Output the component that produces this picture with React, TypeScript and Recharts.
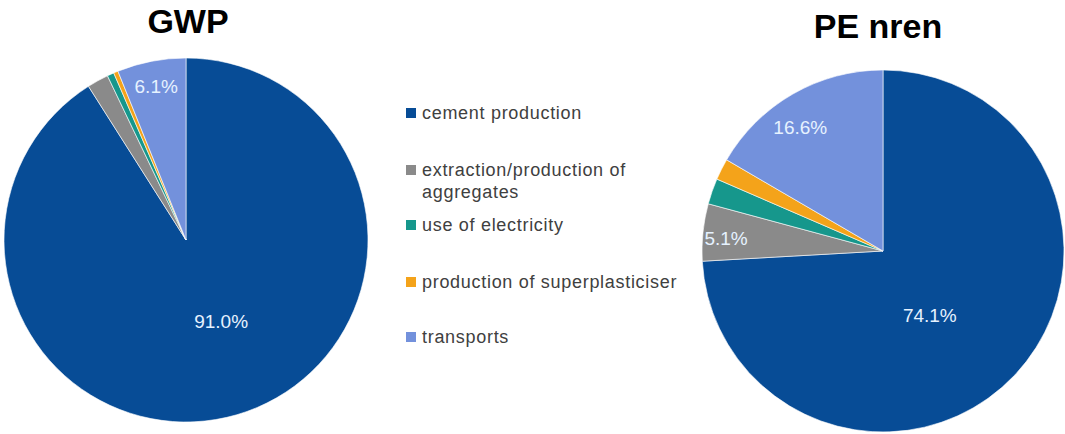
import React from 'react';
import { PieChart, Pie, Cell } from 'recharts';

const categories = [
  'cement production',
  'extraction/production of aggregates',
  'use of electricity',
  'production of superplasticiser',
  'transports',
];
const gwpValues = [91.0, 1.9, 0.6, 0.4, 6.1];
const penrenValues = [74.1, 5.1, 2.3, 1.9, 16.6];
const colors = ['#074c96', '#8a8a8a', '#16978c', '#f4a31a', '#7391dc'];

const gwpData = categories.map((name, i) => ({ name, value: gwpValues[i] }));
const penrenData = categories.map((name, i) => ({ name, value: penrenValues[i] }));

const RAD = Math.PI / 180;
const FONT = '"Liberation Sans", Arial, sans-serif';

type LabelCfg = Record<number, { frac: number; off: number }>;

const makeLabel = (cfg: LabelCfg) => (props: any) => {
  const { cx, cy, midAngle, outerRadius, index, value } = props;
  const c = cfg[index];
  if (!c) return null;
  const a = (midAngle + c.off) * RAD;
  const r = outerRadius * c.frac;
  const x = cx + r * Math.cos(-a);
  const y = cy + r * Math.sin(-a);
  return (
    <text
      x={x}
      y={y}
      fill="#e6f2ff"
      fontSize={19}
      fontFamily={FONT}
      textAnchor="middle"
      dominantBaseline="central"
    >
      {Number(value).toFixed(1) + '%'}
    </text>
  );
};

const gwpLabels: LabelCfg = { 0: { frac: 0.49, off: 7 }, 4: { frac: 0.86, off: 0 } };
const penLabels: LabelCfg = {
  0: { frac: 0.44, off: -10.6 },
  1: { frac: 0.87, off: 1.3 },
  4: { frac: 0.82, off: 4 },
};

const legendRows = [
  { lines: ['cement production'], y: 113 },
  { lines: ['extraction/production of', 'aggregates'], y: 170 },
  { lines: ['use of electricity'], y: 225 },
  { lines: ['production of superplasticiser'], y: 282 },
  { lines: ['transports'], y: 337 },
];

const margin = { top: 0, right: 0, bottom: 0, left: 0 };

export default function App() {
  return (
    <div
      style={{
        position: 'absolute',
        left: 0,
        top: 0,
        width: 1065,
        height: 434,
        background: '#ffffff',
        fontFamily: FONT,
        overflow: 'hidden',
      }}
    >
      <div
        style={{
          position: 'absolute',
          left: 88,
          top: 2,
          width: 200,
          textAlign: 'center',
          fontSize: 34,
          fontWeight: 'bold',
          color: '#000',
          lineHeight: '38px',
        }}
      >
        GWP
      </div>
      <div
        style={{
          position: 'absolute',
          left: 778,
          top: 7,
          width: 200,
          textAlign: 'center',
          fontSize: 34,
          fontWeight: 'bold',
          color: '#000',
          lineHeight: '38px',
        }}
      >
        PE nren
      </div>

      <div style={{ position: 'absolute', left: 0, top: 0 }}>
        <PieChart width={380} height={434} margin={margin}>
          <Pie
            data={gwpData}
            dataKey="value"
            nameKey="name"
            cx={186}
            cy={240}
            outerRadius={182}
            startAngle={90}
            endAngle={-270}
            stroke="#ffffff"
            strokeWidth={0.6}
            labelLine={false}
            label={makeLabel(gwpLabels)}
            isAnimationActive={false}
          >
            {gwpData.map((d, i) => (
              <Cell key={d.name} fill={colors[i]} />
            ))}
          </Pie>
        </PieChart>
      </div>

      <div style={{ position: 'absolute', left: 690, top: 0 }}>
        <PieChart width={375} height={434} margin={margin}>
          <Pie
            data={penrenData}
            dataKey="value"
            nameKey="name"
            cx={193}
            cy={251}
            outerRadius={181}
            startAngle={90}
            endAngle={-270}
            stroke="#ffffff"
            strokeWidth={0.6}
            labelLine={false}
            label={makeLabel(penLabels)}
            isAnimationActive={false}
          >
            {penrenData.map((d, i) => (
              <Cell key={d.name} fill={colors[i]} />
            ))}
          </Pie>
        </PieChart>
      </div>

      <svg
        style={{ position: 'absolute', left: 0, top: 0 }}
        width={1065}
        height={434}
      >
        {legendRows.map((row, i) => (
          <g key={i}>
            <rect x={406} y={row.y - 5} width={10} height={10} fill={colors[i]} />
            {row.lines.map((ln, j) => (
              <text
                key={j}
                x={422}
                y={row.y + j * 22}
                fontSize={18}
                letterSpacing={0.7}
                fontFamily={FONT}
                fill="#404040"
                dominantBaseline="central"
              >
                {ln}
              </text>
            ))}
          </g>
        ))}
      </svg>
    </div>
  );
}
